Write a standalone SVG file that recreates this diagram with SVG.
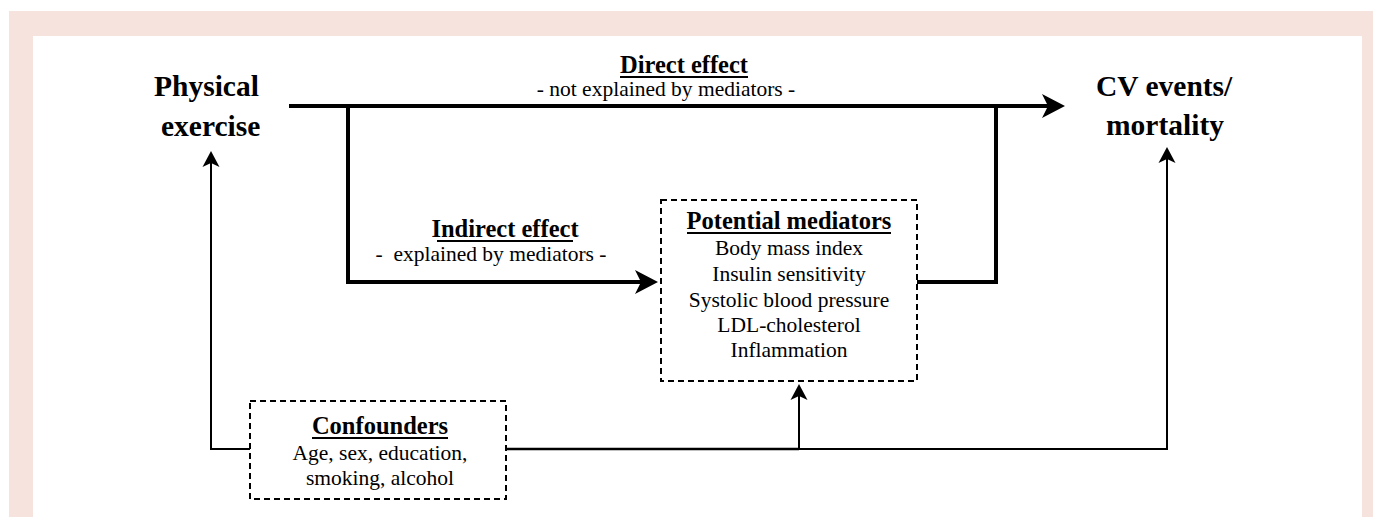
<svg xmlns="http://www.w3.org/2000/svg" width="1373" height="517" viewBox="0 0 1373 517">
<style>
.title{font-family:"Liberation Serif","Times New Roman",serif;font-weight:bold;font-size:29.5px;fill:#000}
.head{font-family:"Liberation Serif","Times New Roman",serif;font-weight:bold;font-size:24.5px;fill:#000;text-anchor:middle}
.body{font-family:"Liberation Serif","Times New Roman",serif;font-size:21.5px;fill:#000;text-anchor:middle}
.thick{fill:none;stroke:#000;stroke-width:4}
.thin{fill:none;stroke:#000;stroke-width:2}
.mid{fill:none;stroke:#000;stroke-width:2.6}
.box{fill:#fff;stroke:#000;stroke-width:2;stroke-dasharray:6 4}
.ul{stroke:#000;stroke-width:2}
</style>
<defs>
<marker id="ahThick" markerUnits="userSpaceOnUse" viewBox="-8 -14 28 28" markerWidth="28" markerHeight="28" refX="0" refY="0" orient="auto">
<path d="M-6,-12 L17,0 L-6,12 L0,0 Z" fill="#000"/>
</marker>
<marker id="ahThin" markerUnits="userSpaceOnUse" viewBox="-6 -10 20 20" markerWidth="20" markerHeight="20" refX="0" refY="0" orient="auto">
<path d="M-4,-8.5 L12,0 L-4,8.5 L0,0 Z" fill="#000"/>
</marker>
</defs>
<rect x="9" y="11" width="1364" height="506" fill="#f6e3de"/>
<rect x="33" y="36" width="1329" height="481" fill="#fff"/>

<g id="connectors">
<path class="thick" d="M289,106 H1048" marker-end="url(#ahThick)"/>
<path class="thick" d="M348,106 V282 H641" marker-end="url(#ahThick)"/>
<path class="thick" d="M917,282 H996 V106"/>
<path class="thin" d="M250,449 H211 V163" marker-end="url(#ahThin)"/>
<path class="mid" d="M506,449 H799"/>
<path class="thin" d="M799,449 H1167 V159" marker-end="url(#ahThin)"/>
<path class="thin" d="M799,449 V396" marker-end="url(#ahThin)"/>
<g id="direct-label">
<text class="head" x="684" y="73">Direct effect</text>
<line class="ul" x1="620" y1="77" x2="748" y2="77"/>
<text class="body" x="666" y="96">- not explained by mediators -</text>
</g>
<g id="indirect-label">
<text class="head" x="505" y="237">Indirect effect</text>
<line class="ul" x1="437" y1="241" x2="573" y2="241"/>
<text class="body" x="491" y="261" xml:space="preserve">-  explained by mediators -</text>
</g>
</g>

<g id="physical-exercise">
<text class="title" x="154" y="96">Physical</text>
<text class="title" x="161" y="136">exercise</text>
</g>

<g id="cv-events">
<text class="title" x="1096" y="96">CV events/</text>
<text class="title" x="1106" y="135">mortality</text>
</g>

<g id="mediators">
<rect class="box" x="661" y="200" width="256" height="181"/>
<text class="head" x="789" y="229">Potential mediators</text>
<line class="ul" x1="687" y1="233" x2="891" y2="233"/>
<text class="body" x="789" y="255">Body mass index</text>
<text class="body" x="789" y="281">Insulin sensitivity</text>
<text class="body" x="789" y="307">Systolic blood pressure</text>
<text class="body" x="789" y="332">LDL-cholesterol</text>
<text class="body" x="789" y="357">Inflammation</text>
</g>

<g id="confounders">
<rect class="box" x="250" y="401" width="256" height="98"/>
<text class="head" x="380" y="434">Confounders</text>
<line class="ul" x1="312" y1="438" x2="448" y2="438"/>
<text class="body" x="380" y="460">Age, sex, education,</text>
<text class="body" x="380" y="485">smoking, alcohol</text>
</g>
</svg>
